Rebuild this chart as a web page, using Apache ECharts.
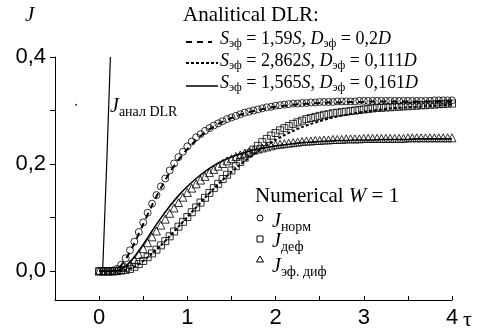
<!DOCTYPE html>
<html>
<head>
<meta charset="utf-8">
<script src="https://cdn.jsdelivr.net/npm/echarts@6/dist/echarts.min.js"></script>
<style>
  html, body { margin: 0; padding: 0; background: #fff; }
  #chart { width: 483px; height: 329px; }
</style>
</head>
<body>
<div id="chart"></div>
<script>
// numerical points, tau step 0.05
const tauPts = [0,0.05,0.1,0.15,0.2,0.25,0.3,0.35,0.4,0.45,
  0.5,0.55,0.6,0.65,0.7,0.75,0.8,0.85,0.9,0.95,
  1,1.05,1.1,1.15,1.2,1.25,1.3,1.35,1.4,1.45,
  1.5,1.55,1.6,1.65,1.7,1.75,1.8,1.85,1.9,1.95,
  2,2.05,2.1,2.15,2.2,2.25,2.3,2.35,2.4,2.45,
  2.5,2.55,2.6,2.65,2.7,2.75,2.8,2.85,2.9,2.95,
  3,3.05,3.1,3.15,3.2,3.25,3.3,3.35,3.4,3.45,
  3.5,3.55,3.6,3.65,3.7,3.75,3.8,3.85,3.9,3.95,4];
const jNorm = [0,0,0,0.001,0.004,0.012,0.024,0.039,0.055,0.073,
  0.091,0.109,0.126,0.142,0.158,0.173,0.188,0.201,0.213,0.223,
  0.233,0.242,0.250,0.256,0.262,0.267,0.272,0.276,0.280,0.284,
  0.287,0.290,0.293,0.296,0.298,0.300,0.302,0.304,0.306,0.307,
  0.309,0.310,0.311,0.312,0.313,0.313,0.314,0.314,0.315,0.315,
  0.316,0.316,0.316,0.316,0.317,0.317,0.317,0.317,0.317,0.318,
  0.318,0.318,0.318,0.318,0.318,0.318,0.318,0.318,0.318,0.318,
  0.318,0.318,0.318,0.318,0.318,0.318,0.319,0.319,0.319,0.319,0.319];
const jDef = [0,0,0,0,0,0.001,0.002,0.004,0.008,0.013,
  0.019,0.026,0.033,0.040,0.048,0.056,0.065,0.074,0.083,0.092,
  0.101,0.110,0.119,0.128,0.137,0.146,0.155,0.163,0.172,0.180,
  0.188,0.196,0.204,0.212,0.220,0.227,0.234,0.241,0.247,0.253,
  0.258,0.263,0.267,0.271,0.275,0.278,0.281,0.284,0.286,0.288,
  0.290,0.292,0.293,0.295,0.296,0.297,0.298,0.299,0.300,0.301,
  0.302,0.303,0.304,0.305,0.305,0.306,0.306,0.307,0.307,0.308,
  0.308,0.309,0.309,0.310,0.310,0.311,0.311,0.312,0.312,0.313,0.313];
const jEff = [0,0,0,0,0.001,0.003,0.007,0.013,0.021,0.031,
  0.042,0.053,0.064,0.075,0.086,0.097,0.108,0.118,0.128,0.138,
  0.147,0.155,0.163,0.170,0.177,0.184,0.190,0.196,0.201,0.206,
  0.210,0.214,0.217,0.220,0.223,0.226,0.228,0.230,0.232,0.234,
  0.236,0.237,0.238,0.239,0.240,0.241,0.242,0.243,0.243,0.244,
  0.244,0.245,0.245,0.246,0.246,0.246,0.247,0.247,0.247,0.247,
  0.248,0.248,0.248,0.248,0.248,0.248,0.248,0.248,0.248,0.248,
  0.249,0.249,0.249,0.249,0.249,0.249,0.249,0.249,0.249,0.249,0.249];

// analytical DLR curves, tau step 0.1
const tauLine = [0,0.1,0.2,0.3,0.4,0.5,0.6,0.7,0.8,0.9,
  1,1.1,1.2,1.3,1.4,1.5,1.6,1.7,1.8,1.9,
  2,2.1,2.2,2.3,2.4,2.5,2.6,2.7,2.8,2.9,
  3,3.1,3.2,3.3,3.4,3.5,3.6,3.7,3.8,3.9,4];
const fitDash = [0,0,0.003,0.022,0.052,0.088,0.123,0.155,0.184,0.208,
  0.228,0.245,0.259,0.270,0.279,0.286,0.292,0.297,0.301,0.304,
  0.307,0.309,0.311,0.312,0.313,0.314,0.315,0.315,0.316,0.316,
  0.316,0.317,0.317,0.317,0.317,0.317,0.317,0.317,0.317,0.317,0.317];
const fitDot = [0,0,0,0.002,0.008,0.019,0.033,0.048,0.065,0.083,
  0.101,0.119,0.137,0.154,0.170,0.185,0.199,0.212,0.224,0.235,
  0.245,0.254,0.262,0.269,0.275,0.280,0.285,0.289,0.292,0.295,
  0.298,0.300,0.302,0.304,0.305,0.306,0.307,0.308,0.309,0.310,0.311];
const fitSolid = [0,0,0.001,0.009,0.027,0.050,0.075,0.099,0.121,0.141,
  0.158,0.173,0.186,0.197,0.206,0.213,0.219,0.224,0.228,0.231,
  0.234,0.236,0.238,0.240,0.241,0.242,0.243,0.244,0.244,0.245,
  0.245,0.245,0.246,0.246,0.246,0.246,0.247,0.247,0.247,0.247,0.247];

const tauAnal = [0.04, 0.086, 0.128];
const jAnal = [0, 0.2, 0.4];
const speck = [[-0.26, 0.311]];

const xTicks = [-0.5,0,0.5,1,1.5,2,2.5,3,3.5,4];
const xLabels = [0,1,2,3,4];
const yTicks = [0,0.1,0.2,0.3,0.4];
const yLabels = [0,0.2,0.4];

const serif = "Liberation Serif";
const sans = "Liberation Sans";

const zip = (xs, ys) => xs.map((x, i) => [x, ys[i]]);

function rich(size) {
  const lh = size + 4;
  return {
    n: { fontFamily: serif, fontSize: size, lineHeight: lh, verticalAlign: "middle", fill: "#000" },
    i: { fontFamily: serif, fontSize: size, fontStyle: "italic", lineHeight: lh, verticalAlign: "middle", fill: "#000" },
    s: { fontFamily: serif, fontSize: Math.round(size * 0.68), lineHeight: 10, verticalAlign: "bottom", fill: "#000" }
  };
}

// x, y = left edge and vertical centre of the text
function label(x, y, text, size) {
  return {
    type: "text", x: x, y: y,
    style: { text: text, rich: rich(size), align: "left", verticalAlign: "middle" }
  };
}

function key(x1, x2, y, dash, w) {
  return {
    type: "line",
    shape: { x1: x1, y1: y, x2: x2, y2: y },
    style: { stroke: "#000", lineWidth: w, lineDash: dash }
  };
}

const marker = (sym, size) => ({
  type: "scatter",
  symbol: sym,
  symbolSize: size,
  itemStyle: { color: "rgba(0,0,0,0)", borderColor: "#000", borderWidth: 1 },
  z: 3
});

const chart = echarts.init(document.getElementById("chart"), null, { renderer: "canvas" });

const options = {
  animation: false,
  backgroundColor: "#fff",
  grid: { left: 55, right: 31, top: 57, bottom: 27 },
  xAxis: {
    type: "value",
    min: -0.5,
    max: 4,
    axisLine: { onZero: false, lineStyle: { color: "#000", width: 1 } },
    axisTick: { inside: true, length: 4, customValues: xTicks, lineStyle: { color: "#000" } },
    axisLabel: {
      customValues: xLabels,
      margin: 7,
      fontFamily: sans,
      fontSize: 22,
      color: "#000"
    },
    splitLine: { show: false }
  },
  yAxis: {
    type: "value",
    min: -0.054,
    max: 0.4,
    axisLine: { show: true, onZero: false, lineStyle: { color: "#000", width: 1 } },
    axisTick: { show: true, inside: false, length: 5, customValues: yTicks, lineStyle: { color: "#000" } },
    axisLabel: {
      customValues: yLabels,
      margin: 9,
      fontFamily: sans,
      fontSize: 22,
      color: "#000",
      formatter: (v) => v.toFixed(1).replace(".", ",")
    },
    splitLine: { show: false }
  },
  series: [
    {
      type: "line", data: zip(tauAnal, jAnal), showSymbol: false,
      lineStyle: { color: "#000", width: 1.2 }
    },
    {
      type: "line", data: zip(tauLine, fitDash), showSymbol: false, smooth: 0.3,
      lineStyle: { color: "#000", width: 2, type: [6, 5] }
    },
    {
      type: "line", data: zip(tauLine, fitDot), showSymbol: false, smooth: 0.3,
      lineStyle: { color: "#000", width: 2, type: [3, 2] }
    },
    {
      type: "line", data: zip(tauLine, fitSolid), showSymbol: false, smooth: 0.3,
      lineStyle: { color: "#000", width: 1.6 }
    },
    Object.assign(marker("circle", 7), { data: zip(tauPts, jNorm) }),
    Object.assign(marker("rect", 7), { data: zip(tauPts, jDef) }),
    Object.assign(marker("triangle", 8), { data: zip(tauPts, jEff) }),
    {
      type: "scatter", data: speck, symbol: "circle", symbolSize: 2,
      itemStyle: { color: "#000" }
    }
  ],
  graphic: [
    label(25, 15, "{i|J}", 21),
    label(463, 320, "{n|τ}", 22),
    label(183, 15, "{n|Analitical DLR:}", 21),
    key(186, 212, 42, [6, 5], 2),
    key(186, 218, 63, [3, 2], 2),
    key(186, 218, 86, null, 1.5),
    label(220, 39, "{i|S}{s|эф}{n| = 1,59}{i|S}{n|, }{i|D}{s|эф}{n| = 0,2}{i|D}", 18),
    label(220, 61, "{i|S}{s|эф}{n| = 2,862}{i|S}{n|, }{i|D}{s|эф}{n| = 0,111}{i|D}", 18),
    label(220, 83, "{i|S}{s|эф}{n| = 1,565}{i|S}{n|, }{i|D}{s|эф}{n| = 0,161}{i|D}", 18),
    label(110, 107, "{i|J}{s|анал DLR}", 20),
    label(255, 196, "{n|Numerical }{i|W}{n| = 1}", 21),
    { type: "circle", shape: { cx: 260, cy: 218, r: 3 }, style: { fill: "none", stroke: "#000", lineWidth: 1 } },
    { type: "rect", shape: { x: 257, y: 236, width: 6, height: 6 }, style: { fill: "none", stroke: "#000", lineWidth: 1 } },
    { type: "polygon", shape: { points: [[260, 256], [263.5, 262], [256.5, 262]] }, style: { fill: "none", stroke: "#000", lineWidth: 1 } },
    label(272, 222, "{i|J}{s|норм}", 20),
    label(272, 242, "{i|J}{s|деф}", 20),
    label(272, 267, "{i|J}{s|эф. диф}", 20)
  ]
};

chart.setOption(options);
</script>
</body>
</html>
